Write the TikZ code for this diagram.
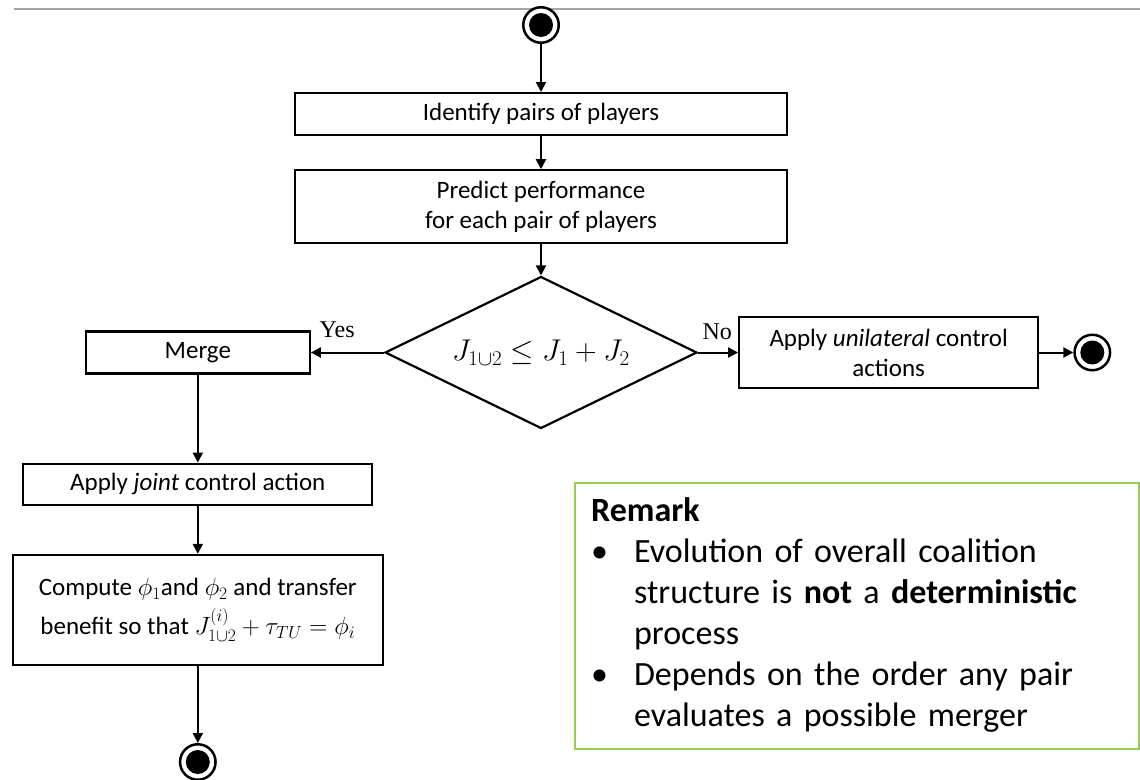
\RequirePackage{fix-cm}
\documentclass[tikz,border=0pt]{standalone}
\usepackage{amsmath}
\usepackage{fontspec}
\setmainfont{Carlito}
\newfontfamily\labelfont{Liberation Serif}
\usetikzlibrary{shapes.geometric, arrows.meta, positioning}
\definecolor{remarkgreen}{RGB}{146,208,80}
\newcommand{\boxfont}{\fontsize{25}{30}\selectfont}
\tikzset{
    flowbox/.style={rectangle, draw, line width=2.2pt, text centered, inner sep=2pt, font=\boxfont},
    decision/.style={diamond, draw, line width=2.2pt, aspect=2.05, minimum width=312pt, minimum height=152pt, inner sep=1pt, font=\fontsize{30}{36}\selectfont},
    terminal/.style={circle, draw, line width=2.5pt, fill=white, minimum size=35.5pt, inner sep=0pt,
        path picture={\fill[black] (path picture bounding box.center) circle (12pt);}},
    arrow/.style={line width=2pt, -{Triangle[length=10pt, width=10pt]}},
    answer/.style={font=\labelfont\fontsize{24}{28}\selectfont, inner sep=2pt},
    remark/.style={draw=remarkgreen, line width=2.2pt, text width=532pt, inner xsep=16pt, minimum height=266pt, align=left, font=\fontsize{34}{41}\selectfont}
}

\begin{document}
\begin{tikzpicture}[x=1pt, y=-1pt]
    \useasboundingbox (0,0) rectangle (1140,779);
    \draw [gray!70, line width=1.5pt] (14,9) -- (1140,9);

    % main column
    \node (start) [terminal] at (541,25) {};
    \node (ident) [flowbox, minimum width=492pt, minimum height=42pt, below=48pt of start] {Identify pairs of players};
    \node (predict) [flowbox, minimum width=492pt, minimum height=73pt, below=33pt of ident, align=center] {Predict performance\\for each pair of players};
    \node (check) [decision, below=31pt of predict] {$J_{1\cup2}\le J_1+J_2$};

    % yes branch
    \node (merge) [flowbox, minimum width=224pt, minimum height=42pt, left=73pt of check] {Merge};
    \node (joint) [flowbox, minimum width=349pt, minimum height=41pt, below=88pt of merge] {Apply \textit{joint} control action};
    \node (share) [flowbox, minimum width=370pt, minimum height=110pt, below=48pt of joint, align=center]
        {Compute $\phi_1$and $\phi_2$ and transfer\\[7pt]benefit so that $J^{(i)}_{1\cup2}+\tau_{TU}=\phi_i$};
    \node (endjoint) [terminal, below=77pt of share] {};

    % no branch
    \node (solo) [flowbox, minimum width=299pt, minimum height=71pt, right=40pt of check, align=center] {Apply \textit{unilateral} control\\actions};
    \node (endsolo) [terminal, right=34pt of solo] {};

    \draw [arrow] (start) -- (ident);
    \draw [arrow] (ident) -- (predict);
    \draw [arrow] (predict) -- (check);
    \draw [arrow] (check) -- node[answer, pos=0.64, above=12pt] {Yes} (merge);
    \draw [arrow] (merge) -- (joint);
    \draw [arrow] (joint) -- (share);
    \draw [arrow] (share) -- (endjoint);
    \draw [arrow] (check) -- node[answer, pos=0.48, above=10pt] {No} (solo);
    \draw [arrow] (solo) -- (endsolo);

    \node (note) [remark, anchor=north west] at (574,482) {%
        \strut\textbf{Remark}\\
        \begin{tabular}[t]{@{}p{43pt}@{}l@{}}
            \textbullet & Evolution of overall coalition\\
                        & structure is \textbf{not} a \textbf{deterministic}\\
                        & process\\
            \textbullet & Depends on the order any pair\\
                        & evaluates a possible merger
        \end{tabular}};
\end{tikzpicture}
\end{document}
